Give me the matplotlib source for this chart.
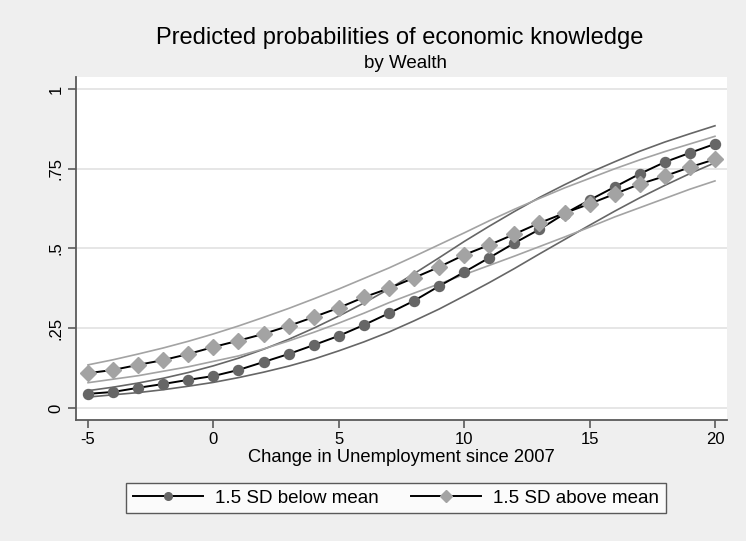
import matplotlib
matplotlib.use("Agg")
import matplotlib.pyplot as plt
from matplotlib.lines import Line2D

plt.rcParams['font.family'] = ['Liberation Sans', 'DejaVu Sans']

# Change in unemployment since 2007
unemp = list(range(-5, 21))

# Predicted probabilities, 1.5 SD below mean wealth
below_p = [0.044, 0.050, 0.063, 0.075, 0.088, 0.100, 0.119, 0.144, 0.169, 0.197,
           0.226, 0.260, 0.297, 0.336, 0.382, 0.426, 0.471, 0.517, 0.560, 0.609,
           0.652, 0.693, 0.734, 0.771, 0.800, 0.828]
below_hi = [0.054, 0.065, 0.078, 0.093, 0.111, 0.132, 0.156, 0.184, 0.215, 0.250,
            0.288, 0.329, 0.373, 0.421, 0.471, 0.522, 0.570, 0.616, 0.660, 0.700,
            0.738, 0.772, 0.805, 0.834, 0.860, 0.885]
below_lo = [0.034, 0.041, 0.048, 0.057, 0.068, 0.080, 0.095, 0.112, 0.131, 0.153,
            0.179, 0.207, 0.238, 0.273, 0.310, 0.351, 0.393, 0.437, 0.483, 0.528,
            0.573, 0.617, 0.659, 0.698, 0.735, 0.769]

# Predicted probabilities, 1.5 SD above mean wealth
above_p = [0.109, 0.119, 0.135, 0.150, 0.169, 0.191, 0.211, 0.232, 0.257, 0.285,
           0.314, 0.347, 0.375, 0.408, 0.442, 0.480, 0.511, 0.545, 0.580, 0.611,
           0.640, 0.671, 0.702, 0.727, 0.755, 0.780]
above_hi = [0.135, 0.151, 0.169, 0.188, 0.209, 0.232, 0.257, 0.284, 0.312, 0.342,
            0.373, 0.406, 0.439, 0.475, 0.512, 0.549, 0.587, 0.623, 0.657, 0.690,
            0.720, 0.750, 0.778, 0.804, 0.828, 0.852]
above_lo = [0.079, 0.090, 0.101, 0.115, 0.129, 0.146, 0.163, 0.185, 0.210, 0.237,
            0.266, 0.297, 0.330, 0.360, 0.389, 0.418, 0.447, 0.476, 0.506, 0.536,
            0.567, 0.599, 0.628, 0.657, 0.686, 0.712]

series_labels = ["1.5 SD below mean", "1.5 SD above mean"]
x_ticks = [-5, 0, 5, 10, 15, 20]
y_ticks = [0, 0.25, 0.5, 0.75, 1]
y_tick_labels = ["0", ".25", ".5", ".75", "1"]

BG = "#EFEFEF"
DARK = "#666666"
LIGHT = "#A3A3A3"
AXC = "#5A5A5A"

fig = plt.figure(figsize=(7.46, 5.41), dpi=100, facecolor=BG)
ax = fig.add_axes([76 / 746, 121 / 541, 651 / 746, 343 / 541])
ax.set_facecolor("white")

for yv in y_ticks:
    ax.axhline(yv, color="#E4E4E4", lw=1.3, zorder=0)

# confidence bands
ax.plot(unemp, below_hi, color=DARK, lw=1.2, zorder=2)
ax.plot(unemp, below_lo, color=DARK, lw=1.2, zorder=2)
ax.plot(unemp, above_hi, color=LIGHT, lw=1.2, zorder=2)
ax.plot(unemp, above_lo, color=LIGHT, lw=1.2, zorder=2)

# point estimates
ax.plot(unemp, below_p, color="black", lw=1.4, marker="o", ms=7.2,
        mfc=DARK, mec=DARK, zorder=3)
ax.plot(unemp, above_p, color="black", lw=1.4, marker="D", ms=8.3,
        mfc=LIGHT, mec=LIGHT, zorder=4)

ax.set_xlim(-5.48, 20.48)
ax.set_ylim(-0.038, 1.038)
ax.set_xticks(x_ticks)
ax.set_xticklabels([str(v) for v in x_ticks])
ax.set_yticks(y_ticks)
ax.set_yticklabels(y_tick_labels, rotation=90, va="center")

for side in ("top", "right"):
    ax.spines[side].set_visible(False)
for side in ("left", "bottom"):
    ax.spines[side].set_color(AXC)
    ax.spines[side].set_linewidth(1.3)
ax.tick_params(axis="both", direction="out", length=6, width=1.2, color=AXC,
               labelsize=12, pad=3)

ax.set_xlabel("Change in Unemployment since 2007", fontsize=13.2, labelpad=1)

fig.text(400 / 746, 1 - 38 / 541, "Predicted probabilities of economic knowledge",
         ha="center", va="center", fontsize=17)
fig.text(405 / 746, 1 - 64 / 541, "by Wealth", ha="center", va="center",
         fontsize=13.5)

handles = [
    Line2D([0], [0], color="black", lw=1.4, marker="o", ms=5.5, mfc=DARK, mec=DARK),
    Line2D([0], [0], color="black", lw=1.4, marker="D", ms=6.0, mfc=LIGHT, mec=LIGHT),
]
leg = fig.legend(handles, series_labels, loc="center", ncol=2,
                 bbox_to_anchor=(396 / 746, 1 - 498 / 541), frameon=True,
                 fancybox=False, edgecolor="#333333", facecolor="white",
                 fontsize=13.5, handlelength=3.75, columnspacing=1.7,
                 handletextpad=0.65, borderpad=0.35, borderaxespad=0)
leg.get_frame().set_linewidth(1.0)

fig.savefig("out.png", dpi=100, facecolor=BG)
